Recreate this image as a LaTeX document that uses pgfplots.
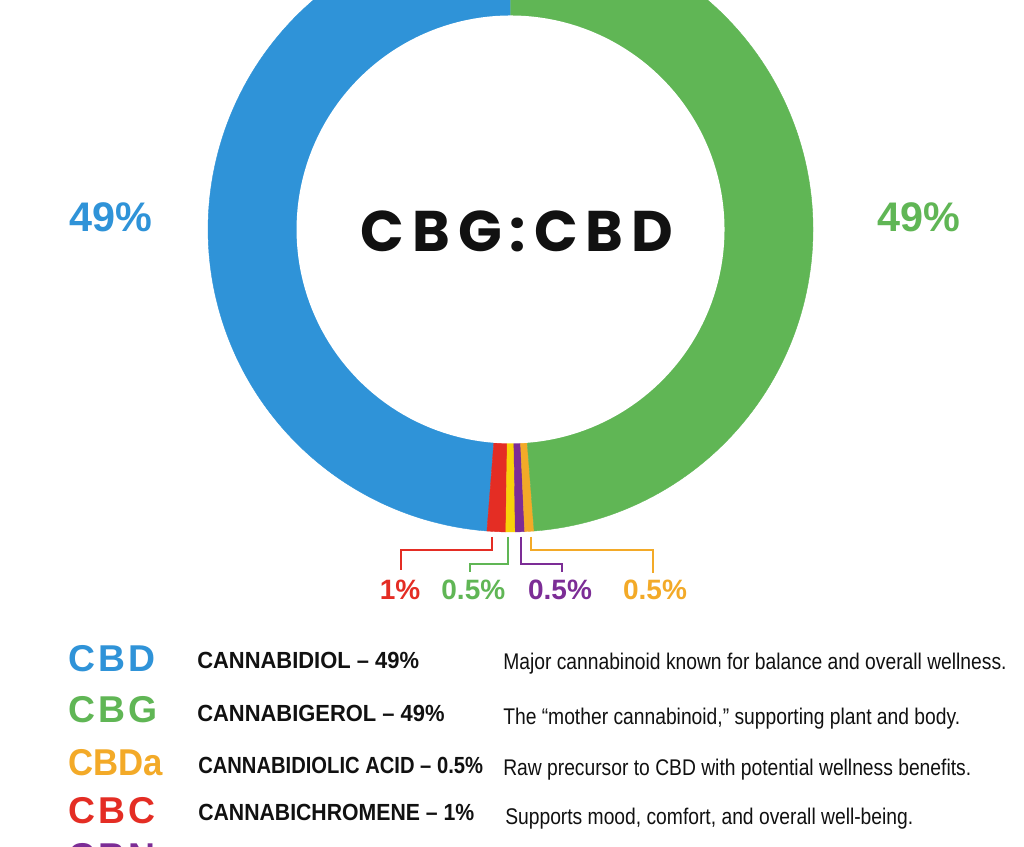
\documentclass[border=0pt]{standalone}
\usepackage{pgfplots}
\pgfplotsset{compat=1.18}
\usepgfplotslibrary{polar}
\usepackage{fontspec}
\setmainfont{Liberation Sans}
\newfontfamily\cond[FakeStretch=0.85]{Liberation Sans}
\newfontfamily\condb[FakeStretch=0.94]{Liberation Sans}
\newfontfamily\condbb[FakeStretch=0.865]{Liberation Sans}
\newfontfamily\condbc[FakeStretch=0.91]{Liberation Sans}
\newfontfamily\code[LetterSpace=8]{Liberation Sans}
\newfontfamily\codea[FakeStretch=0.93]{Liberation Sans}
\newfontfamily\popb[LetterSpace=14]{Poppins}

\definecolor{cbdblue}{RGB}{47,147,216}
\definecolor{cbggreen}{RGB}{96,182,85}
\definecolor{cbcred}{RGB}{228,45,36}
\definecolor{slyellow}{RGB}{248,210,10}
\definecolor{cbnpurple}{RGB}{124,45,150}
\definecolor{cbdaorange}{RGB}{243,170,40}
\definecolor{txt}{RGB}{17,17,17}

% shares in percent, in drawing order (counter-clockwise from the top)
\def\pCBD{49}
\def\pCBC{1}
\def\pY{0.5}
\def\pCBN{0.5}
\def\pCBDa{0.5}
\def\pCBG{49}
\def\total{100.5}

\pgfmathsetmacro\angA{90}
\pgfmathsetmacro\angB{\angA+\pCBD/\total*360}
\pgfmathsetmacro\angC{\angB+\pCBC/\total*360}
\pgfmathsetmacro\angD{\angC+\pY/\total*360}
\pgfmathsetmacro\angE{\angD+\pCBN/\total*360}
\pgfmathsetmacro\angF{\angE+\pCBDa/\total*360}
\pgfmathsetmacro\angG{\angF+\pCBG/\total*360}

\begin{document}
\begin{tikzpicture}
\path[use as bounding box] (0,0) rectangle (768pt,634.5pt);
\fill[white] (0,0) rectangle (768pt,634.5pt);
\begin{scope}
\clip (0,0) rectangle (768pt,634.5pt);
\begin{polaraxis}[
  hide axis, clip=false, scale only axis,
  width=453.75pt, height=453.75pt,
  xmin=0, xmax=360, ymin=0, ymax=302.5,
  at={(382.9pt,462.4pt)}, anchor=center,
]
\addplot[fill=cbdblue, draw=cbdblue, line width=0.3pt, domain=\angA:\angB, samples=120] {302.5} -- (axis cs:0,0) -- cycle;
\addplot[fill=cbcred, draw=cbcred, line width=0.3pt, domain=\angB:\angC, samples=4] {302.5} -- (axis cs:0,0) -- cycle;
\addplot[fill=slyellow, draw=slyellow, line width=0.3pt, domain=\angC:\angD, samples=3] {302.5} -- (axis cs:0,0) -- cycle;
\addplot[fill=cbnpurple, draw=cbnpurple, line width=0.3pt, domain=\angD:\angE, samples=3] {302.5} -- (axis cs:0,0) -- cycle;
\addplot[fill=cbdaorange, draw=cbdaorange, line width=0.3pt, domain=\angE:\angF, samples=3] {302.5} -- (axis cs:0,0) -- cycle;
\addplot[fill=cbggreen, draw=cbggreen, line width=0.3pt, domain=\angF:\angG, samples=120] {302.5} -- (axis cs:0,0) -- cycle;
\addplot[fill=white, draw=none, domain=0:360, samples=181] {214} -- cycle;
\end{polaraxis}

% side labels and centre title
\node[anchor=base, text=cbdblue, font=\bfseries\fontsize{31}{31}\selectfont] at (83.25pt,460.5pt) {49\%};
\node[anchor=base, text=cbggreen, font=\bfseries\fontsize{31}{31}\selectfont] at (689.25pt,460.5pt) {49\%};
\node[anchor=base, text=txt, font=\popb\bfseries\fontsize{43}{43}\selectfont] at (387.75pt,445.5pt) {CBG:CBD};

% callouts
\draw[cbcred, line width=1.5pt] (369pt,231.75pt) -- (369pt,222pt) -- (300.75pt,222pt) -- (300.75pt,207pt);
\draw[cbggreen, line width=1.5pt] (381pt,231.75pt) -- (381pt,211.5pt) -- (352.5pt,211.5pt) -- (352.5pt,205.5pt);
\draw[cbnpurple, line width=1.5pt] (390.75pt,231.75pt) -- (390.75pt,211.5pt) -- (421.5pt,211.5pt) -- (421.5pt,205.5pt);
\draw[cbdaorange, line width=1.5pt] (398.25pt,231.75pt) -- (398.25pt,222pt) -- (489.75pt,222pt) -- (489.75pt,204.75pt);
\node[anchor=base, text=cbcred, font=\bfseries\fontsize{21}{21}\selectfont] at (300pt,184.5pt) {1\%};
\node[anchor=base, text=cbggreen, font=\bfseries\fontsize{21}{21}\selectfont] at (355pt,184.5pt) {0.5\%};
\node[anchor=base, text=cbnpurple, font=\bfseries\fontsize{21}{21}\selectfont] at (420pt,184.5pt) {0.5\%};
\node[anchor=base, text=cbdaorange, font=\bfseries\fontsize{21}{21}\selectfont] at (491.25pt,184.5pt) {0.5\%};

% key
\node[anchor=base west, inner sep=0pt, text=cbdblue, font=\code\bfseries\fontsize{28}{28}\selectfont] at (51pt,130.5pt) {CBD};
\node[anchor=base west, inner sep=0pt, text=cbggreen, font=\code\bfseries\fontsize{28}{28}\selectfont] at (51pt,92.25pt) {CBG};
\node[anchor=base west, inner sep=0pt, text=cbdaorange, font=\codea\bfseries\fontsize{28}{28}\selectfont] at (51pt,52.5pt) {CBDa};
\node[anchor=base west, inner sep=0pt, text=cbcred, font=\code\bfseries\fontsize{28}{28}\selectfont] at (51pt,17.25pt) {CBC};
\node[anchor=base west, inner sep=0pt, text=cbnpurple, font=\code\bfseries\fontsize{28}{28}\selectfont] at (51pt,-17.25pt) {CBN};

\node[anchor=base west, inner sep=0pt, text=txt, font=\condb\bfseries\fontsize{17.5}{17.5}\selectfont] at (147.75pt,132.75pt) {CANNABIDIOL – 49\%};
\node[anchor=base west, inner sep=0pt, text=txt, font=\condb\bfseries\fontsize{17.5}{17.5}\selectfont] at (147.75pt,93pt) {CANNABIGEROL – 49\%};
\node[anchor=base west, inner sep=0pt, text=txt, font=\condbb\bfseries\fontsize{17.5}{17.5}\selectfont] at (148.5pt,54.75pt) {CANNABIDIOLIC ACID – 0.5\%};
\node[anchor=base west, inner sep=0pt, text=txt, font=\condbc\bfseries\fontsize{17.5}{17.5}\selectfont] at (148.5pt,19.5pt) {CANNABICHROMENE – 1\%};

\node[anchor=base west, inner sep=0pt, text=txt, font=\cond\fontsize{17}{17}\selectfont] at (377.25pt,132pt) {Major cannabinoid known for balance and overall wellness.};
\node[anchor=base west, inner sep=0pt, text=txt, font=\cond\fontsize{17}{17}\selectfont] at (377.25pt,91.5pt) {The “mother cannabinoid,” supporting plant and body.};
\node[anchor=base west, inner sep=0pt, text=txt, font=\cond\fontsize{17}{17}\selectfont] at (377.25pt,52.5pt) {Raw precursor to CBD with potential wellness benefits.};
\node[anchor=base west, inner sep=0pt, text=txt, font=\cond\fontsize{17}{17}\selectfont] at (378.75pt,16.5pt) {Supports mood, comfort, and overall well-being.};
\end{scope}
\end{tikzpicture}
\end{document}
